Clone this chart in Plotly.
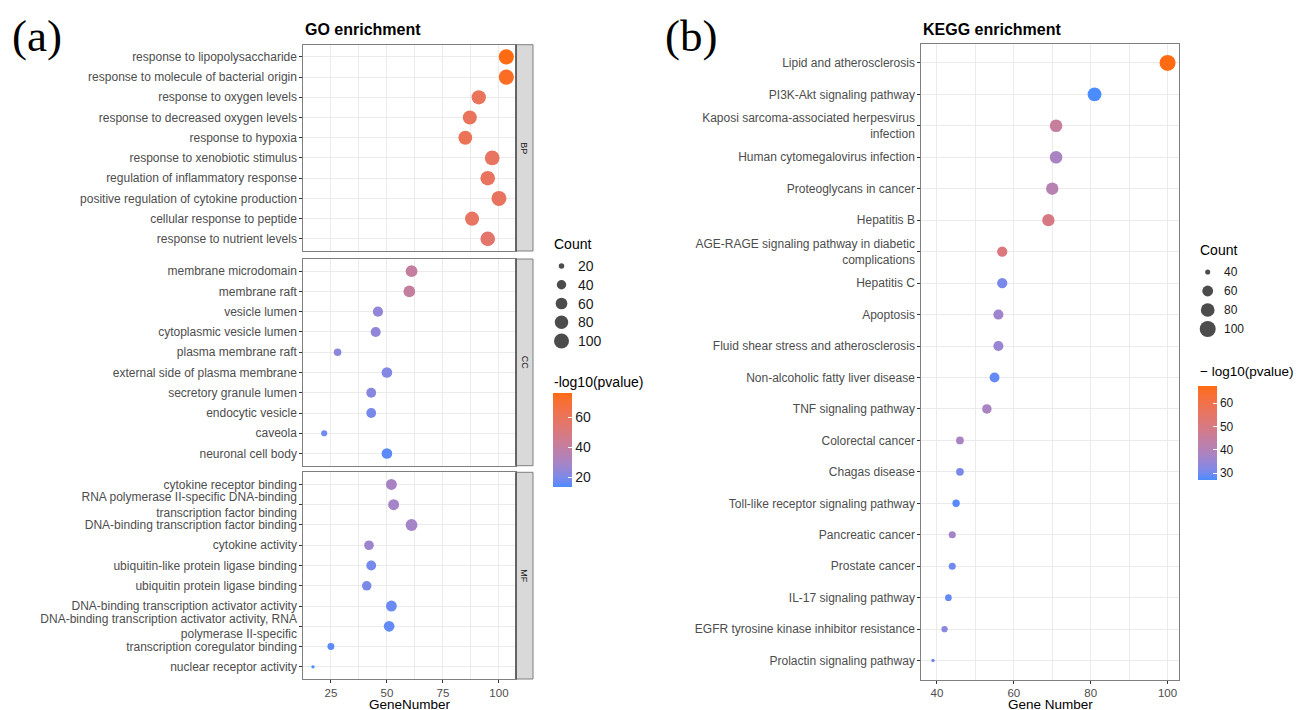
import numpy as np
import plotly.graph_objects as go

W, H = 1297, 710

# ---------------- data ----------------
bp_terms = [
    "response to lipopolysaccharide",
    "response to molecule of bacterial origin",
    "response to oxygen levels",
    "response to decreased oxygen levels",
    "response to hypoxia",
    "response to xenobiotic stimulus",
    "regulation of inflammatory response",
    "positive regulation of cytokine production",
    "cellular response to peptide",
    "response to nutrient levels",
]
bp_gene = [103.3, 103.3, 91, 87, 85, 97, 95, 100, 88, 95]
bp_logp = [76, 73, 60, 60, 61, 58, 59, 59, 58, 55]

cc_terms = [
    "membrane microdomain",
    "membrane raft",
    "vesicle lumen",
    "cytoplasmic vesicle lumen",
    "plasma membrane raft",
    "external side of plasma membrane",
    "secretory granule lumen",
    "endocytic vesicle",
    "caveola",
    "neuronal cell body",
]
cc_gene = [61, 60, 46, 45, 28, 50, 43, 43, 22, 50]
cc_logp = [40, 40, 24, 24, 23, 21, 22, 19, 18, 15]

mf_terms = [
    "cytokine receptor binding",
    "RNA polymerase II-specific DNA-binding<br>transcription factor binding",
    "DNA-binding transcription factor binding",
    "cytokine activity",
    "ubiquitin-like protein ligase binding",
    "ubiquitin protein ligase binding",
    "DNA-binding transcription activator activity",
    "DNA-binding transcription activator activity, RNA<br>polymerase II-specific",
    "transcription coregulator binding",
    "nuclear receptor activity",
]
mf_gene = [52, 53, 61, 42, 43, 41, 52, 51, 25, 17]
mf_logp = [30, 29, 29, 27, 19, 20, 17, 16, 15, 13.3]

kegg_terms = [
    "Lipid and atherosclerosis",
    "PI3K-Akt signaling pathway",
    "Kaposi sarcoma-associated herpesvirus<br>infection",
    "Human cytomegalovirus infection",
    "Proteoglycans in cancer",
    "Hepatitis B",
    "AGE-RAGE signaling pathway in diabetic<br>complications",
    "Hepatitis C",
    "Apoptosis",
    "Fluid shear stress and atherosclerosis",
    "Non-alcoholic fatty liver disease",
    "TNF signaling pathway",
    "Colorectal cancer",
    "Chagas disease",
    "Toll-like receptor signaling pathway",
    "Pancreatic cancer",
    "Prostate cancer",
    "IL-17 signaling pathway",
    "EGFR tyrosine kinase inhibitor resistance",
    "Prolactin signaling pathway",
]
kegg_gene = [100, 81, 71, 71, 70, 69, 57, 57, 56, 56, 55, 53, 46, 46, 45, 44, 44, 43, 42, 39]
kegg_logp = [67.4, 27.1, 45, 38, 41, 50, 51, 31, 36, 35, 29, 38, 38, 31, 28, 37, 30, 29, 33, 31]

go_size_breaks = [20, 40, 60, 80, 100]
go_color_ticks = [20, 40, 60]
go_x_ticks = [25, 50, 75, 100]
kegg_size_breaks = [40, 60, 80, 100]
kegg_color_ticks = [30, 40, 50, 60]
kegg_x_ticks = [40, 60, 80, 100]

LOW, HIGH = "#4B8CFF", "#FF6B12"
SANS = "Liberation Sans, Arial, sans-serif"
SERIF = "Liberation Serif, Times New Roman, serif"


# ---------------- helpers ----------------
def X(px):
    return px / W


def Y(px):
    return 1 - px / H


def _hex(h):
    h = h.lstrip("#")
    return np.array([int(h[i:i + 2], 16) for i in (0, 2, 4)], float) / 255


_M = np.array([[0.4124, 0.3576, 0.1805], [0.2126, 0.7152, 0.0722], [0.0193, 0.1192, 0.9505]])
_WP = np.array([0.95047, 1.0, 1.08883])


def to_lab(h):
    c = _hex(h)
    c = np.where(c <= 0.04045, c / 12.92, ((c + 0.055) / 1.055) ** 2.4)
    xyz = _M @ c / _WP
    f = np.where(xyz > 0.008856, np.cbrt(xyz), 7.787 * xyz + 16 / 116)
    return np.array([116 * f[1] - 16, 500 * (f[0] - f[1]), 200 * (f[1] - f[2])])


def from_lab(lab):
    L, a, b = lab
    fy = (L + 16) / 116
    fx = fy + a / 500
    fz = fy - b / 200
    f = np.array([fx, fy, fz])
    xyz = np.where(f ** 3 > 0.008856, f ** 3, (f - 16 / 116) / 7.787) * _WP
    c = np.linalg.solve(_M, xyz)
    c = np.clip(c, 0, 1)
    c = np.where(c <= 0.0031308, 12.92 * c, 1.055 * c ** (1 / 2.4) - 0.055)
    c = np.clip(np.round(c * 255), 0, 255).astype(int)
    return "rgb(%d,%d,%d)" % tuple(c)


la, lb = to_lab(LOW), to_lab(HIGH)
colorscale = [[float(t), from_lab(la + (lb - la) * t)] for t in np.linspace(0, 1, 21)]


def size_scale(vals, vmin, vmax, dmin, dmax):
    v = np.asarray(vals, float)
    return dmin + (dmax - dmin) * np.sqrt(np.clip((v - vmin) / (vmax - vmin), 0, 1))


go_all_gene = bp_gene + cc_gene + mf_gene
go_all_logp = bp_logp + cc_logp + mf_logp
g_min, g_max = min(go_all_gene), max(go_all_gene)
GO_D = (3.3, 15.2)
k_min, k_max = min(kegg_gene), max(kegg_gene)
KG_D = (3.5, 16.0)


def expand(lo, hi, m=0.05):
    d = (hi - lo) * m
    return [lo - d, hi + d]


go_xrange = expand(g_min, g_max)
kegg_xrange = expand(k_min, k_max)

fig = go.Figure()

# ---------------- GO panels ----------------
go_panels = [
    ("BP", bp_terms, bp_gene, bp_logp, "x", "y", 44.7, 251.0),
    ("CC", cc_terms, cc_gene, cc_logp, "x2", "y2", 259.0, 465.7),
    ("MF", mf_terms, mf_gene, mf_logp, "x3", "y3", 472.3, 679.0),
]
for name, terms, gene, logp, xa, ya, top, bot in go_panels:
    fig.add_trace(go.Scatter(
        x=gene, y=terms, mode="markers", xaxis=xa, yaxis=ya, showlegend=False,
        marker=dict(size=size_scale(gene, g_min, g_max, *GO_D), color=logp,
                    coloraxis="coloraxis", line=dict(width=0), opacity=1),
    ))

fig.add_trace(go.Scatter(
    x=kegg_gene, y=kegg_terms, mode="markers", xaxis="x4", yaxis="y4", showlegend=False,
    marker=dict(size=size_scale(kegg_gene, k_min, k_max, *KG_D), color=kegg_logp,
                coloraxis="coloraxis2", line=dict(width=0), opacity=1),
))

# size legends
fig.add_trace(go.Scatter(
    x=[0.5] * len(go_size_breaks), y=list(range(len(go_size_breaks))), mode="markers",
    xaxis="x5", yaxis="y5", showlegend=False, hoverinfo="skip",
    marker=dict(size=size_scale(go_size_breaks, g_min, g_max, *GO_D), color="black", line=dict(width=0)),
))
fig.add_trace(go.Scatter(
    x=[0.5] * len(kegg_size_breaks), y=list(range(len(kegg_size_breaks))), mode="markers",
    xaxis="x6", yaxis="y6", showlegend=False, hoverinfo="skip",
    marker=dict(size=size_scale(kegg_size_breaks, k_min, k_max, *KG_D), color="black", line=dict(width=0)),
))

GRID = "#EBEBEB"
BORDER = "#7F7F7F"
TICKC = "#4D4D4D"


def xaxis_cfg(domain, anchor, rng, ticks, minor_dtick, show_labels):
    return dict(
        domain=domain, anchor=anchor, range=rng, tickmode="array", tickvals=ticks,
        showgrid=True, gridcolor=GRID, gridwidth=1.1,
        minor=dict(dtick=minor_dtick, tick0=ticks[0], showgrid=True, gridcolor=GRID, gridwidth=0.6, ticks=""),
        showline=True, mirror=True, linecolor=BORDER, linewidth=1,
        ticks="outside" if show_labels else "", ticklen=3, tickcolor="#333333", tickwidth=1,
        showticklabels=show_labels, tickfont=dict(family=SANS, size=11.5, color=TICKC),
        zeroline=False, fixedrange=True,
    )


def yaxis_cfg(domain, anchor, terms):
    n = len(terms)
    return dict(
        domain=domain, anchor=anchor, type="category", categoryorder="array", categoryarray=terms,
        range=[n - 1 + 0.6, -0.6], showgrid=True, gridcolor=GRID, gridwidth=1.1,
        showline=True, mirror=True, linecolor=BORDER, linewidth=1,
        ticks="outside", ticklen=3, tickcolor="#333333", tickwidth=1,
        tickfont=dict(family=SANS, size=12, color=TICKC), zeroline=False, fixedrange=True,
    )


go_xdom = [X(303.3), X(516.0)]
layout = dict(
    width=W, height=H, autosize=False,
    margin=dict(l=0, r=0, t=0, b=0, pad=0),
    paper_bgcolor="white", plot_bgcolor="white",
    font=dict(family=SANS, color="black"),
    xaxis=xaxis_cfg(go_xdom, "y", go_xrange, go_x_ticks, 12.5, False),
    xaxis2=xaxis_cfg(go_xdom, "y2", go_xrange, go_x_ticks, 12.5, False),
    xaxis3=xaxis_cfg(go_xdom, "y3", go_xrange, go_x_ticks, 12.5, True),
    yaxis=yaxis_cfg([Y(251.0), Y(44.7)], "x", bp_terms),
    yaxis2=yaxis_cfg([Y(465.7), Y(259.0)], "x2", cc_terms),
    yaxis3=yaxis_cfg([Y(679.0), Y(472.3)], "x3", mf_terms),
    xaxis4=xaxis_cfg([X(921.3), X(1179.3)], "y4", kegg_xrange, kegg_x_ticks, 10, True),
    yaxis4=yaxis_cfg([Y(679.5), Y(44.0)], "x4", kegg_terms),
    xaxis5=dict(domain=[X(552.0), X(571.0)], anchor="y5", range=[0, 1], visible=False, fixedrange=True),
    yaxis5=dict(domain=[Y(350.4), Y(256.6)], anchor="x5", range=[len(go_size_breaks) - 0.5, -0.5],
                visible=False, fixedrange=True),
    xaxis6=dict(domain=[X(1198.0), X(1217.4)], anchor="y6", range=[0, 1], visible=False, fixedrange=True),
    yaxis6=dict(domain=[Y(338.5), Y(262.5)], anchor="x6", range=[len(kegg_size_breaks) - 0.5, -0.5],
                visible=False, fixedrange=True),
    coloraxis=dict(
        colorscale=colorscale, cmin=min(go_all_logp), cmax=max(go_all_logp),
        colorbar=dict(
            x=X(552.5), xanchor="left", xpad=0, y=Y(440.3), yanchor="middle", ypad=0,
            len=94, lenmode="pixels", thickness=19, thicknessmode="pixels",
            outlinewidth=0, tickmode="array", tickvals=go_color_ticks,
            ticks="inside", ticklen=4, tickcolor="white", tickwidth=1,
            tickfont=dict(family=SANS, size=14, color="#1A1A1A"),
        ),
    ),
    coloraxis2=dict(
        colorscale=colorscale, cmin=min(kegg_logp), cmax=max(kegg_logp),
        colorbar=dict(
            x=X(1197.7), xanchor="left", xpad=0, y=Y(433.0), yanchor="middle", ypad=0,
            len=94, lenmode="pixels", thickness=19, thicknessmode="pixels",
            outlinewidth=0, tickmode="array", tickvals=kegg_color_ticks,
            ticks="inside", ticklen=4, tickcolor="white", tickwidth=1,
            tickfont=dict(family=SANS, size=12, color="#1A1A1A"),
        ),
    ),
)
fig.update_layout(**layout)

shapes = []
annotations = []
for name, terms, gene, logp, xa, ya, top, bot in go_panels:
    shapes.append(dict(type="rect", xref="paper", yref="paper", x0=X(516.0), x1=X(533.0),
                       y0=Y(bot), y1=Y(top), fillcolor="#D9D9D9", line=dict(color=BORDER, width=1),
                       layer="above"))
    shapes.append(dict(type="line", xref="paper", yref="paper", x0=X(516.0), x1=X(516.0),
                       y0=Y(bot), y1=Y(top), line=dict(color="#3A3A3A", width=1.3), layer="above"))
    annotations.append(dict(text=name, xref="paper", yref="paper", x=X(524.5), y=Y((top + bot) / 2),
                            showarrow=False, textangle=90, xanchor="center", yanchor="middle",
                            font=dict(family=SANS, size=9, color="#1A1A1A")))

# titles and panel tags
annotations += [
    dict(text="<b>GO enrichment</b>", xref="paper", yref="paper", x=X(303.3), y=Y(30),
         xanchor="left", yanchor="middle", showarrow=False, font=dict(family=SANS, size=16, color="black")),
    dict(text="<b>KEGG enrichment</b>", xref="paper", yref="paper", x=X(921.3), y=Y(30),
         xanchor="left", yanchor="middle", showarrow=False, font=dict(family=SANS, size=16, color="black")),
    dict(text="(a)", xref="paper", yref="paper", x=X(10), y=Y(36), xanchor="left", yanchor="middle",
         showarrow=False, font=dict(family=SERIF, size=45, color="black")),
    dict(text="(b)", xref="paper", yref="paper", x=X(663), y=Y(36), xanchor="left", yanchor="middle",
         showarrow=False, font=dict(family=SERIF, size=45, color="black")),
    dict(text="GeneNumber", xref="paper", yref="paper", x=X(409.6), y=0, xanchor="center",
         yanchor="bottom", yshift=-4, showarrow=False, font=dict(family=SANS, size=13.5, color="black")),
    dict(text="Gene Number", xref="paper", yref="paper", x=X(1050.3), y=0, xanchor="center",
         yanchor="bottom", yshift=-4, showarrow=False, font=dict(family=SANS, size=13.5, color="black")),
    # legend titles
    dict(text="Count", xref="paper", yref="paper", x=X(552.0), y=Y(244.3), xanchor="left",
         yanchor="middle", showarrow=False, font=dict(family=SANS, size=14, color="black")),
    dict(text="-log10(pvalue)", xref="paper", yref="paper", x=X(552.0), y=Y(382.3), xanchor="left",
         yanchor="middle", showarrow=False, font=dict(family=SANS, size=14, color="black")),
    dict(text="Count", xref="paper", yref="paper", x=X(1197.5), y=Y(250), xanchor="left",
         yanchor="middle", showarrow=False, font=dict(family=SANS, size=14, color="black")),
    dict(text="\u2212 log10(pvalue)", xref="paper", yref="paper", x=X(1197.5), y=Y(371.7), xanchor="left",
         yanchor="middle", showarrow=False, font=dict(family=SANS, size=13.5, color="black")),
]
for i, b in enumerate(go_size_breaks):
    annotations.append(dict(text=str(b), xref="paper", yref="y5", x=X(575.5), y=i, xanchor="left",
                            yanchor="middle", showarrow=False, font=dict(family=SANS, size=14, color="#1A1A1A")))
for i, b in enumerate(kegg_size_breaks):
    annotations.append(dict(text=str(b), xref="paper", yref="y6", x=X(1221.5), y=i, xanchor="left",
                            yanchor="middle", showarrow=False, font=dict(family=SANS, size=12, color="#1A1A1A")))

fig.update_layout(shapes=shapes, annotations=annotations)
fig.write_html(
    "out.html",
    config={"displayModeBar": False},
    post_script="document.body.style.margin='0';document.body.style.overflow='hidden';",
)
